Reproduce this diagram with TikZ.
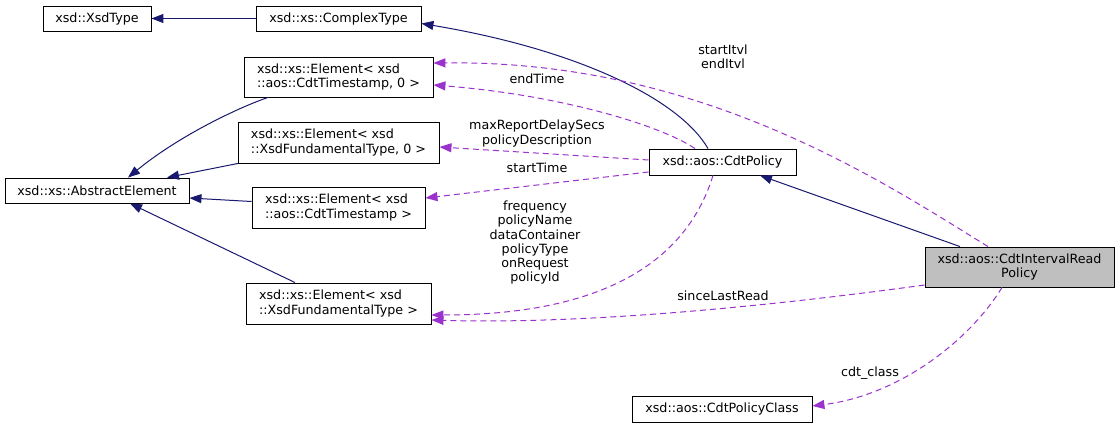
\documentclass[tikz,border=0pt]{standalone}
\usepackage{fontspec}
\setmainfont{DejaVu Sans}
\usetikzlibrary{arrows.meta,calc}
\definecolor{navy}{HTML}{191970}
\definecolor{orchid}{HTML}{9A32CD}
\definecolor{grayfill}{HTML}{BFBFBF}
\begin{document}
\begin{tikzpicture}[x=1pt,y=-1pt,
  every node/.style={font=\fontsize{12.7}{14.3}\selectfont, inner sep=0pt},
  cls/.style={draw=black, line width=0.9pt, fill=white, minimum height=#1},
  cls/.default=25,
  inh/.style={draw=navy, line width=1pt, -{Triangle[length=12pt,width=9pt]}, fill=none},
  use/.style={draw=orchid, line width=1pt, dash pattern=on 6pt off 4pt, -{Triangle[length=12pt,width=9pt,fill=orchid]}},
  lbl/.style={align=center, text=black}
]
\useasboundingbox (0,0) rectangle (1120,428);
\fill[white] (0,0) rectangle (1120,428);

% nodes
\node[cls, minimum width=108] (xsdtype) at (97,18.5) {xsd::XsdType};
\node[cls, minimum width=165] (complex) at (338.5,18.5) {xsd::xs::ComplexType};
\node[cls=40, minimum width=189, align=left] (elts0) at (338.5,77) {xsd::xs::Element< xsd\\::aos::CdtTimestamp, 0 >};
\node[cls=41, minimum width=201, align=left] (elfund0) at (338.5,142.5) {xsd::xs::Element< xsd\\::XsdFundamentalType, 0 >};
\node[cls, minimum width=184] (abstract) at (97,190.5) {xsd::xs::AbstractElement};
\node[cls=41, minimum width=173, align=left] (elts) at (338.5,207.5) {xsd::xs::Element< xsd\\::aos::CdtTimestamp >};
\node[cls=41, minimum width=185, align=left] (elfund) at (338.5,303.5) {xsd::xs::Element< xsd\\::XsdFundamentalType >};
\node[cls=26, minimum width=147] (policy) at (722.5,162) {xsd::aos::CdtPolicy};
\node[cls=40, minimum width=189, fill=grayfill, align=center] (interval) at (1019.5,267) {xsd::aos::CdtIntervalRead\\Policy};
\node[cls=26, minimum width=180] (pclass) at (722,409) {xsd::aos::CdtPolicyClass};

% inheritance
\draw[inh] (complex.west) -- (xsdtype.east);
\draw[inh] ([xshift=-14.5]policy.north) .. controls (680,100) and (580,50) .. ([yshift=-5]complex.east);
\draw[inh] ([xshift=-70.5]elts0.south) .. controls (240,107) and (180,135) .. ([xshift=31]abstract.north);
\draw[inh] ([xshift=-100.5]elfund0.south) -- ([xshift=70]abstract.north);
\draw[inh] ([yshift=6]elts.west) -- ([yshift=-7.5]abstract.east);
\draw[inh] ([xshift=-43.5]elfund.north) -- ([xshift=33]abstract.south);
\draw[inh] ([xshift=-59.5]interval.north) -- ([xshift=37.5]policy.south);

% usage
\draw[use] ([xshift=-31.5]interval.north) .. controls (880,180) and (700,60) .. ([yshift=14]elts0.east);
\draw[use] ([xshift=-27.5]policy.north) .. controls (660,125) and (560,95) .. ([yshift=-8]elts0.east);
\draw[use] ([yshift=2]policy.west) -- ([yshift=-4.5]elfund0.east);
\draw[use] ([yshift=-10]policy.west) -- ([yshift=9.5]elts.east);
\draw[use] ([xshift=-9.5]policy.south) .. controls (690,250) and (620,315) .. ([yshift=-11.5]elfund.east);
\draw[use] ([yshift=-18]interval.west) .. controls (800,302) and (600,325) .. ([yshift=-16.5]elfund.east);
\draw[use] ([xshift=-17.5]interval.south) .. controls (970,340) and (900,395) .. ([yshift=3]pclass.east);

% labels
\node[lbl] (l1) at (723,57) {startItvl\\endItvl};
\node[lbl] (l2) at (537,79) {endTime};
\node[lbl] (l3) at (537,133.5) {maxReportDelaySecs\\policyDescription};
\node[lbl] (l4) at (537,168) {startTime};
\node[lbl] (l5) at (535,242.7) {frequency\\policyName\\dataContainer\\policyType\\onRequest\\policyId};
\node[lbl] (l6) at (723,296) {sinceLastRead};
\node[lbl] (l7) at (870,373) {cdt\_class};
\end{tikzpicture}
\end{document}
